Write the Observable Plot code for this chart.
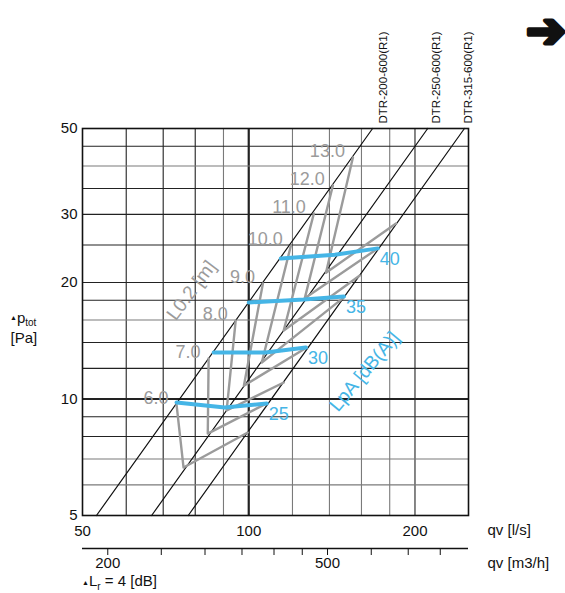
<!DOCTYPE html>
<html><head><meta charset="utf-8">
<script src="https://cdn.jsdelivr.net/npm/d3@7"></script>
<script src="https://cdn.jsdelivr.net/npm/@observablehq/plot@0.6"></script>
<style>
body{margin:0;background:#fff;}
#chart{width:565px;height:593px;}
svg{font-family:"Liberation Sans",Arial,sans-serif;}
</style></head><body><div id="chart"></div>
<script>
// ---- data ----
const xTicks = [50, 100, 200];                 // qv [l/s]
const yTicks = [5, 10, 20, 30, 50];            // Δp_tot [Pa]
const gridQ = [60, 70, 80, 90, 100, 120, 140, 160, 180, 200];
const gridQGray = [90, 120, 140, 160, 180];
const gridP = [6, 7, 8, 9, 10, 12, 14, 16, 18, 20, 25, 30, 35, 40, 45];
const gridPGray = [6, 7, 16, 40];
const m3hTicks = [200, 250, 300, 350, 400, 450, 500, 600, 700, 800];
const m3hLabels = [200, 300, 500];

const units = ["DTR-200-600(R1)", "DTR-250-600(R1)", "DTR-315-600(R1)"];
const unitQLow = [53.0, 66.7, 77.7];     // q at 5 Pa
const unitPLow = [5, 5, 5];
const unitQHigh = [167.6, 210.9, 245.8]; // q at 50 Pa
const unitPHigh = [50, 50, 50];

const throwL = [6, 7, 8, 9, 10, 11, 12, 13];   // L0.2 [m]
const throwQ = [
  [74.0, 76.2, 99.6],
  [84.6, 84.3, 107.8],
  [94.7, 91.2, 115.7],
  [106.1, 98.0, 127.4],
  [119.2, 105.6, 148.7],
  [131.2, 115.7, 158.9],
  [142.0, 126.3, 171.3],
  [154.4, 138.0, 184.8]
];
const throwP = [
  [9.68, 6.65, 8.19],
  [12.72, 8.14, 9.74],
  [15.95, 9.34, 11.03],
  [19.9, 10.83, 13.58],
  [24.9, 12.42, 18.3],
  [30.15, 15.03, 20.86],
  [35.6, 18.2, 24.5],
  [42.1, 21.2, 28.4]
];

const lpa = [25, 30, 35, 40];                  // LpA [dB(A)]
const lpaQ = [
  [74.0, 90.5, 107.8],
  [86.4, 107.3, 126.9],
  [100.0, 125.8, 148.7],
  [114.3, 143.2, 171.3]
];
const lpaP = [
  [9.80, 9.51, 9.74],
  [13.19, 13.19, 13.58],
  [17.76, 18.07, 18.4],
  [23.07, 23.6, 24.5]
];

// ---- tables ----
const unitRows = units.flatMap((u, i) => [
  {unit: u, q: unitQLow[i], p: unitPLow[i]},
  {unit: u, q: unitQHigh[i], p: unitPHigh[i]}
]);
const unitTop = units.map((u, i) => ({unit: u, q: unitQHigh[i], p: unitPHigh[i]}));
const throwRows = throwL.flatMap((L, i) => throwQ[i].map((q, j) => ({L, q, p: throwP[i][j]})));
const throwLabelRows = throwL.map((L, i) => ({L, q: throwQ[i][0], p: throwP[i][0]}));
const lpaRows = lpa.flatMap((v, i) => lpaQ[i].map((q, j) => ({v, q, p: lpaP[i][j]})));
const lpaLabelRows = lpa.map((v, i) => ({v, q: lpaQ[i][2], p: lpaP[i][2]}));

const GRAY = "#9b9b9b", BLUE = "#45b5e6", FONT = "Liberation Sans, Arial, sans-serif";
const unitLabel = (i, dx) => Plot.text([unitTop[i]], {x: "q", y: "p", text: "unit", rotate: -90,
  textAnchor: "start", dx, dy: -5, fontSize: 11.5, fill: "#111"});
const note = (txt, anchor, dx, dy, o = {}) => Plot.text([txt], {frameAnchor: anchor, dx, dy,
  textAnchor: "middle", lineAnchor: "middle", fontSize: 15, fill: "#111", ...o});

const chart = Plot.plot({
  width: 565, height: 593,
  marginLeft: 82, marginRight: 97, marginTop: 128, marginBottom: 78,
  x: {type: "log", domain: [50, 250], label: null},
  y: {type: "log", domain: [5, 50], label: null},
  style: {fontFamily: FONT, fontSize: "15px", background: "white", color: "#111"},
  marks: [
    Plot.ruleX(gridQ, {stroke: d => gridQGray.includes(d) ? "#7a7a7a" : "#222",
      strokeWidth: d => d === 100 ? 2.2 : 1.1}),
    Plot.ruleY(gridP, {stroke: d => gridPGray.includes(d) ? "#7a7a7a" : "#222",
      strokeWidth: d => d === 10 ? 2.2 : 1.1}),
    Plot.frame({stroke: "#111", strokeWidth: 1.6}),
    Plot.line(unitRows, {x: "q", y: "p", z: "unit", stroke: "#111", strokeWidth: 1.2}),
    Plot.line(throwRows, {x: "q", y: "p", z: "L", stroke: GRAY, strokeWidth: 2.4}),
    Plot.line(lpaRows, {x: "q", y: "p", z: "v", stroke: BLUE, strokeWidth: 4}),
    Plot.text(throwLabelRows, {x: "q", y: "p", text: d => d.L.toFixed(1), textAnchor: "end",
      dx: -8, dy: -6, fill: GRAY, fontSize: 18}),
    Plot.text(lpaLabelRows, {x: "q", y: "p", text: d => String(d.v), textAnchor: "start",
      dx: 2, dy: 11, fill: BLUE, fontSize: 18}),
    unitLabel(0, 11), unitLabel(1, 9), unitLabel(2, 4),
    note("L0.2 [m]", "top-left", 109, 162, {rotate: -53, fill: GRAY, fontSize: 19}),
    note("LpA [dB(A)]", "top-left", 282, 243, {rotate: -50, fill: BLUE, fontSize: 19}),
    Plot.axisX(xTicks, {anchor: "bottom", tickSize: 0, tickPadding: 10, fontSize: 15,
      tickFormat: d => String(d)}),
    Plot.axisY(yTicks, {anchor: "left", tickSize: 0, tickPadding: 5, fontSize: 15,
      tickFormat: d => String(d)}),
    Plot.ruleY([5], {dy: 33, stroke: "#111", strokeWidth: 1.5}),
    Plot.axisX(m3hTicks.map(d => d / 3.6), {anchor: "bottom", dy: 33, tickSize: 7, tickPadding: 2,
      fontSize: 15, tickFormat: d => { const v = Math.round(d * 3.6); return m3hLabels.includes(v) ? String(v) : ""; }}),
    note("qv [l/s]", "bottom-right", 19, 15, {textAnchor: "start"}),
    note("qv [m3/h]", "bottom-right", 19, 48, {textAnchor: "start"}),
    note("[Pa]", "top-left", -72, 210, {textAnchor: "start"}),
    note("➔", "top-right", 77, -97, {fontSize: 48, fontWeight: "bold", stroke: "#111", strokeWidth: 2.5})
  ]
});
document.getElementById("chart").appendChild(chart);

// texts with subscripts
const svg = d3.select(chart);
const t1 = svg.append("text").attr("x", 10).attr("y", 323).attr("font-size", 15)
  .attr("fill", "#111").attr("text-anchor", "start");
t1.append("tspan").attr("font-size", 7).attr("dy", -3).text("▲");
t1.append("tspan").attr("dy", 3).text("p");
t1.append("tspan").attr("font-size", 10).attr("dy", 3).text("tot");
const t2 = svg.append("text").attr("x", 82).attr("y", 586).attr("font-size", 15)
  .attr("fill", "#111").attr("text-anchor", "start");
t2.append("tspan").attr("font-size", 7).attr("dy", -1).text("▲");
t2.append("tspan").attr("dy", 1).text("L");
t2.append("tspan").attr("font-size", 10).attr("dy", 4).text("r");
t2.append("tspan").attr("dy", -4).text(" = 4 [dB]");
</script></body></html>
